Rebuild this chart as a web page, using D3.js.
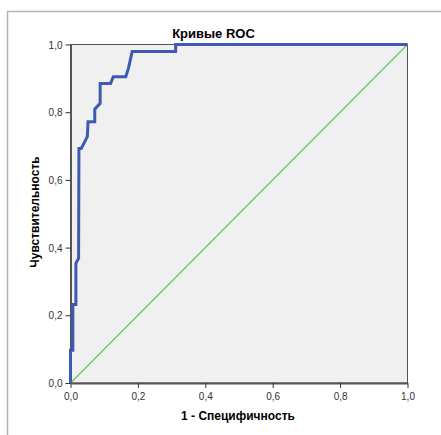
<!DOCTYPE html>
<html>
<head>
<meta charset="utf-8">
<script src="https://cdn.jsdelivr.net/npm/d3@7"></script>
<style>
  body { margin: 0; background: #fff; }
  svg { font-family: "Liberation Sans", Arial, sans-serif; }
</style>
</head>
<body>
<div id="chart"></div>
<script>
// ROC curve points (1 - specificity, sensitivity)
var fpr = [0, 0, 0.007, 0.007, 0.016, 0.016, 0.024, 0.025, 0.032, 0.05, 0.052, 0.072, 0.072, 0.088, 0.088, 0.119, 0.127, 0.164, 0.172, 0.183, 0.312, 0.312, 1.0];
var tpr = [0, 0.097, 0.097, 0.232, 0.232, 0.354, 0.368, 0.693, 0.693, 0.728, 0.772, 0.772, 0.809, 0.826, 0.885, 0.885, 0.905, 0.905, 0.93, 0.979, 0.979, 1.0, 1.0];
var ticks = [0, 0.2, 0.4, 0.6, 0.8, 1.0];

var svgWidth = 441;
var svgHeight = 435;

// plot area
var margin = { top: 44.5, left: 70.5 };
var width = 337;
var height = 338.5;

var svg = d3.select("#chart").append("svg")
    .attr("width", svgWidth)
    .attr("height", svgHeight);

// outer frame
svg.append("rect")
    .attr("x", 7.5)
    .attr("y", 11.5)
    .attr("width", 460)
    .attr("height", 460)
    .attr("fill", "none")
    .attr("stroke", "#b4b4b4")
    .attr("stroke-width", 1.5);

var chartGroup = svg.append("g")
    .attr("transform", `translate(${margin.left}, ${margin.top})`);

var x = d3.scaleLinear().domain([0, 1]).range([0, width]);
var y = d3.scaleLinear().domain([0, 1]).range([height, 0]);

var fmt = function(d) { return d3.format(".1f")(d).replace(".", ","); };

chartGroup.append("rect")
    .attr("width", width)
    .attr("height", height)
    .attr("fill", "#f0f0f0")
    .attr("stroke", "#555")
    .attr("stroke-width", 1);

// axes
var bottomAxis = d3.axisBottom(x).tickValues(ticks).tickFormat(fmt).tickSizeInner(5).tickSizeOuter(0);
var leftAxis = d3.axisLeft(y).tickValues(ticks).tickFormat(fmt).tickSizeInner(5).tickSizeOuter(0);

var xg = chartGroup.append("g")
    .attr("transform", `translate(0, ${height})`)
    .call(bottomAxis);
var yg = chartGroup.append("g")
    .call(leftAxis);

[xg, yg].forEach(function(g) {
  g.select(".domain").attr("stroke", "#555").attr("stroke-width", 2);
  g.selectAll(".tick line").attr("stroke", "#333");
  g.selectAll(".tick text")
      .attr("fill", "#333")
      .style("font-size", "10px");
});
xg.selectAll(".tick text").attr("dy", "0.9em");
yg.selectAll(".tick text").attr("dy", "0.35em");

// reference diagonal
chartGroup.append("line")
    .attr("x1", x(0)).attr("y1", y(0))
    .attr("x2", x(1)).attr("y2", y(1))
    .attr("stroke", "#5ec86a")
    .attr("stroke-width", 1.2);

// ROC curve
var pts = fpr.map(function(d, i) { return [d, tpr[i]]; });
var line = d3.line()
    .x(function(d) { return x(d[0]); })
    .y(function(d) { return y(d[1]); });

chartGroup.append("path")
    .datum(pts)
    .attr("d", line)
    .attr("fill", "none")
    .attr("stroke", "#3d5bb3")
    .attr("stroke-width", 3)
    .attr("stroke-linejoin", "miter");

// titles
svg.append("text")
    .attr("x", 213.5)
    .attr("y", 38)
    .attr("text-anchor", "middle")
    .style("font-size", "13px")
    .style("font-weight", "bold")
    .text("Кривые ROC");

svg.append("text")
    .attr("x", 238)
    .attr("y", 420)
    .attr("text-anchor", "middle")
    .style("font-size", "12px")
    .style("font-weight", "bold")
    .text("1 - Специфичность");

svg.append("text")
    .attr("transform", "translate(39, 212) rotate(-90)")
    .attr("text-anchor", "middle")
    .style("font-size", "12px")
    .style("font-weight", "bold")
    .text("Чувствительность");
</script>
</body>
</html>
